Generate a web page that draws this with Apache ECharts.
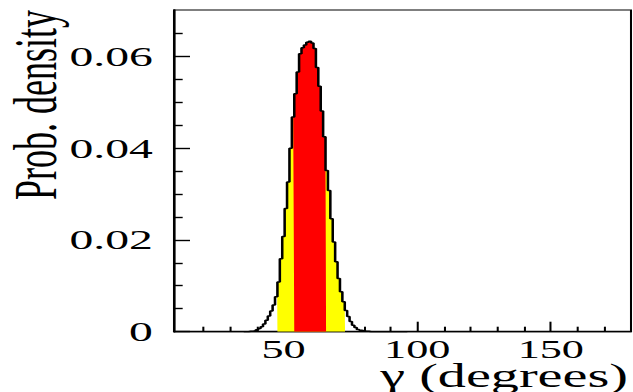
<!DOCTYPE html>
<html><head><meta charset="utf-8">
<script src="https://cdn.jsdelivr.net/npm/echarts@6/dist/echarts.min.js"></script>
<style>
html,body{margin:0;padding:0;background:#fff;overflow:hidden;}
#wrap{width:633px;height:392px;overflow:hidden;position:relative;background:#fff;}
#chart{width:372px;height:392px;transform:scaleX(1.7016);transform-origin:0 0;}
</style></head><body>
<div id="wrap"><div id="chart"></div></div>
<script>
// ---- data ----
const binStart = 35.1;     // left edge of first bin (degrees)
const binWidth = 0.9;      // bin width (degrees)
const density = [
  0, 0, 0.0001, 0.0001, 0.0002, 0.0004, 0.0007, 0.0011, 0.0017, 0.0025,
  0.0034, 0.0045, 0.0058, 0.0076, 0.0108, 0.0159, 0.0207, 0.0268, 0.0326, 0.0399,
  0.0467, 0.0518, 0.0565, 0.0605, 0.0618, 0.0624, 0.0630, 0.0632, 0.0628, 0.0616,
  0.0575, 0.0534, 0.0480, 0.0424, 0.0351, 0.0307, 0.0246, 0.0195, 0.0152, 0.0116,
  0.0087, 0.0065, 0.0046, 0.0033, 0.0022, 0.0014, 0.0009, 0.0005, 0.0003, 0.0002,
  0.0001, 0.0001, 0, 0, 0, 0, 0, 0, 0, 0,
  0, 0, 0, 0, 0, 0, 0, 0
];
const band68 = [53.6, 65.9];   // red interval
const band95 = [47.6, 73.0];   // yellow interval
const xRange = [9, 180];
const yRange = [0, 0.07];
const xMajorTicks = [50, 100, 150];
const xMinorTicks = [20, 30, 40, 60, 70, 80, 90, 110, 120, 130, 140, 160, 170];
const yMajorTicks = [0, 0.02, 0.04, 0.06];
const yMinorTicks = [0.005, 0.01, 0.015, 0.025, 0.03, 0.035, 0.045, 0.05, 0.055, 0.065];
const xTitle = 'γ (degrees)';
const yTitle = 'Prob. density';

// ---- build series from the data ----
const SX = 633 / 372;
const edge = i => Math.round((binStart + i * binWidth) * 1e6) / 1e6;
const outline = density.map((v, i) => [edge(i), v]);
outline.push([edge(density.length), 0]);

function bandData(band) {
  const pts = [];
  let last = null;
  density.forEach((v, i) => {
    const lo = Math.max(edge(i), band[0]);
    const hi = Math.min(edge(i + 1), band[1]);
    if (lo < hi) { pts.push([lo, v]); last = [hi, v]; }
  });
  if (last) pts.push(last);
  return pts;
}

const serif = 'Liberation Serif, Times New Roman, serif';
const chart = echarts.init(document.getElementById('chart'), null, {renderer: 'svg'});
const axisBase = {
  type: 'value', splitLine: {show: false},
};
chart.setOption({
  animation: false,
  grid: {left: 174 / SX, right: 2 / SX, top: 10, bottom: 60.3, show: true,
         borderColor: '#000', borderWidth: 1.2, backgroundColor: 'transparent'},
  xAxis: [
    Object.assign({}, axisBase, {
      min: xRange[0], max: xRange[1], position: 'bottom',
      axisLine: {show: true, onZero: false, lineStyle: {color: '#000', width: 1.4}},
      axisTick: {show: true, inside: true, length: 10, customValues: xMajorTicks, lineStyle: {color: '#000', width: 1.2}},
      axisLabel: {show: true, customValues: xMajorTicks, margin: 8, lineHeight: 20, color: '#000', fontFamily: serif, fontSize: 26}
    }),
    Object.assign({}, axisBase, {
      min: xRange[0], max: xRange[1], position: 'bottom',
      axisLine: {show: false},
      axisTick: {show: true, inside: true, length: 5, customValues: xMinorTicks, lineStyle: {color: '#000', width: 1.2}},
      axisLabel: {show: false}
    })
  ],
  yAxis: [
    Object.assign({}, axisBase, {
      min: yRange[0], max: yRange[1], position: 'left',
      axisLine: {show: true, onZero: false, lineStyle: {color: '#000', width: 1.4}},
      axisTick: {show: true, inside: true, length: 9.4, customValues: yMajorTicks, lineStyle: {color: '#000', width: 1.4}},
      axisLabel: {show: true, customValues: yMajorTicks, margin: 12.4, color: '#000', fontFamily: serif, fontSize: 28}
    }),
    Object.assign({}, axisBase, {
      min: yRange[0], max: yRange[1], position: 'left',
      axisLine: {show: false},
      axisTick: {show: true, inside: true, length: 5.1, customValues: yMinorTicks, lineStyle: {color: '#000', width: 1.4}},
      axisLabel: {show: false}
    })
  ],
  series: [
    {type: 'line', step: 'end', data: bandData(band95), symbol: 'none', silent: true, z: 1,
     lineStyle: {width: 0, opacity: 0}, areaStyle: {color: '#ffff00', opacity: 1}},
    {type: 'line', step: 'end', data: bandData(band68), symbol: 'none', silent: true, z: 2,
     lineStyle: {width: 0, opacity: 0}, areaStyle: {color: '#ff0000', opacity: 1}},
    {type: 'line', step: 'end', data: outline, symbol: 'none', silent: true, z: 3,
     lineStyle: {width: 1.5, color: '#000'}}
  ],
  graphic: [
    {type: 'text', x: 21, y: 10, rotation: Math.PI / 2, silent: true,
     style: {text: yTitle, font: '36px ' + serif, fill: '#000',
             textAlign: 'right', align: 'right', textVerticalAlign: 'middle', verticalAlign: 'middle'}},
    {type: 'text', x: 628 / SX, y: 376, silent: true,
     style: {text: xTitle, font: '33px ' + serif, lineHeight: 24, fill: '#000',
             textAlign: 'right', align: 'right', textVerticalAlign: 'middle', verticalAlign: 'middle'}}
  ]
});
</script>
</body></html>
